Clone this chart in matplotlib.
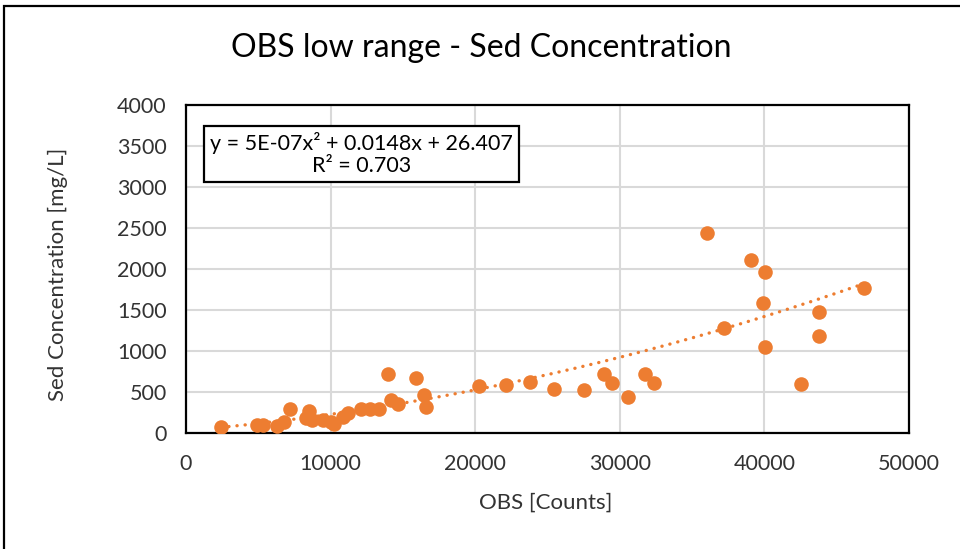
import numpy as np
import matplotlib
matplotlib.use("Agg")
import matplotlib.pyplot as plt
from matplotlib.patches import Rectangle

# OBS readings (counts) and measured sediment concentration (mg/L)
obs_counts = [2400, 4900, 5300, 6260, 6770, 7180, 8330, 8520, 8700, 9490,
              10060, 10220, 10860, 11210, 12130, 12710, 13350, 13970, 14200,
              14660, 15880, 16460, 16580, 20260, 22100, 23760, 25440, 27490,
              28890, 29440, 30600, 31750, 32340, 36000, 37220, 39070, 39870,
              40060, 40060, 42560, 43780, 43780, 46890]
sed_conc = [66, 90, 95, 82, 134, 289, 175, 265, 155, 155,
            134, 106, 195, 236, 285, 285, 285, 712, 399,
            346, 663, 460, 317, 570, 582, 622, 533, 521,
            712, 602, 431, 712, 602, 2432, 1273, 2106, 1585,
            1964, 1041, 590, 1476, 1179, 1761]

# Second-order trendline coefficients (a*x^2 + b*x + c) and fit quality
trend_coef = [5e-07, 0.0148, 26.407]
r_squared = 0.703

x_ticks = [0, 10000, 20000, 30000, 40000, 50000]
y_ticks = [0, 500, 1000, 1500, 2000, 2500, 3000, 3500, 4000]

orange = "#ED7D31"
grid_grey = "#D9D9D9"
text_grey = "#333333"
font = "Lato"

fig = plt.figure(figsize=(9.6, 5.49), dpi=100)
plt.rcParams["font.family"] = [font, "DejaVu Sans"]

# outer chart frame
fig.patches.append(Rectangle((4 / 960, -0.1), 1.2, 1.1 - 6 / 549,
                             transform=fig.transFigure, fill=False,
                             edgecolor="black", linewidth=1.6, zorder=0))

ax = fig.add_axes([186 / 960, 1 - 432.7 / 549, (909 - 186) / 960,
                   (432.7 - 105) / 549])
ax.set_xlim(x_ticks[0], x_ticks[-1])
ax.set_ylim(y_ticks[0], y_ticks[-1])
ax.set_xticks(x_ticks)
ax.set_yticks(y_ticks)
ax.set_xticklabels([str(v) for v in x_ticks])
ax.set_yticklabels([str(v) for v in y_ticks])
ax.tick_params(length=0, labelsize=15.5, colors=text_grey)
ax.tick_params(axis="y", pad=14)
ax.tick_params(axis="x", pad=15)
ax.grid(True, color=grid_grey, linewidth=1.5)
ax.set_axisbelow(True)
for s in ax.spines.values():
    s.set_linewidth(1.6)
    s.set_color("black")

ax.scatter(obs_counts, sed_conc, s=110, color=orange, zorder=3, linewidths=0)

xs = np.linspace(min(obs_counts), max(obs_counts), 300)
ys = np.polyval(trend_coef, xs)
ax.plot(xs, ys, color=orange, linewidth=2.4, linestyle=(0, (0.05, 2.4)),
        dash_capstyle="round", zorder=2)

eq = "y = 5E-07x² + 0.0148x + 26.407\nR² = {:.3f}".format(r_squared)
ax.text((361.5 - 186) / 723, (432.7 - 154) / 327.7, eq, transform=ax.transAxes,
        ha="center", va="center", fontsize=15.5, color="black",
        multialignment="center", linespacing=1.1,
        bbox=dict(boxstyle="square,pad=0.3", facecolor="white",
                  edgecolor="black", linewidth=1.6))

fig.text(481 / 960, 1 - 48 / 549, "OBS low range - Sed Concentration",
         ha="center", va="center", fontsize=23, color="black")
fig.text(546 / 960, 1 - 503 / 549, "OBS [Counts]", ha="center", va="center",
         fontsize=16, color=text_grey)
fig.text(58 / 960, 1 - 274 / 549, "Sed Concentration [mg/L]", ha="center",
         va="center", rotation=90, fontsize=16, color=text_grey)

fig.savefig("out.png", dpi=100, facecolor="white")
